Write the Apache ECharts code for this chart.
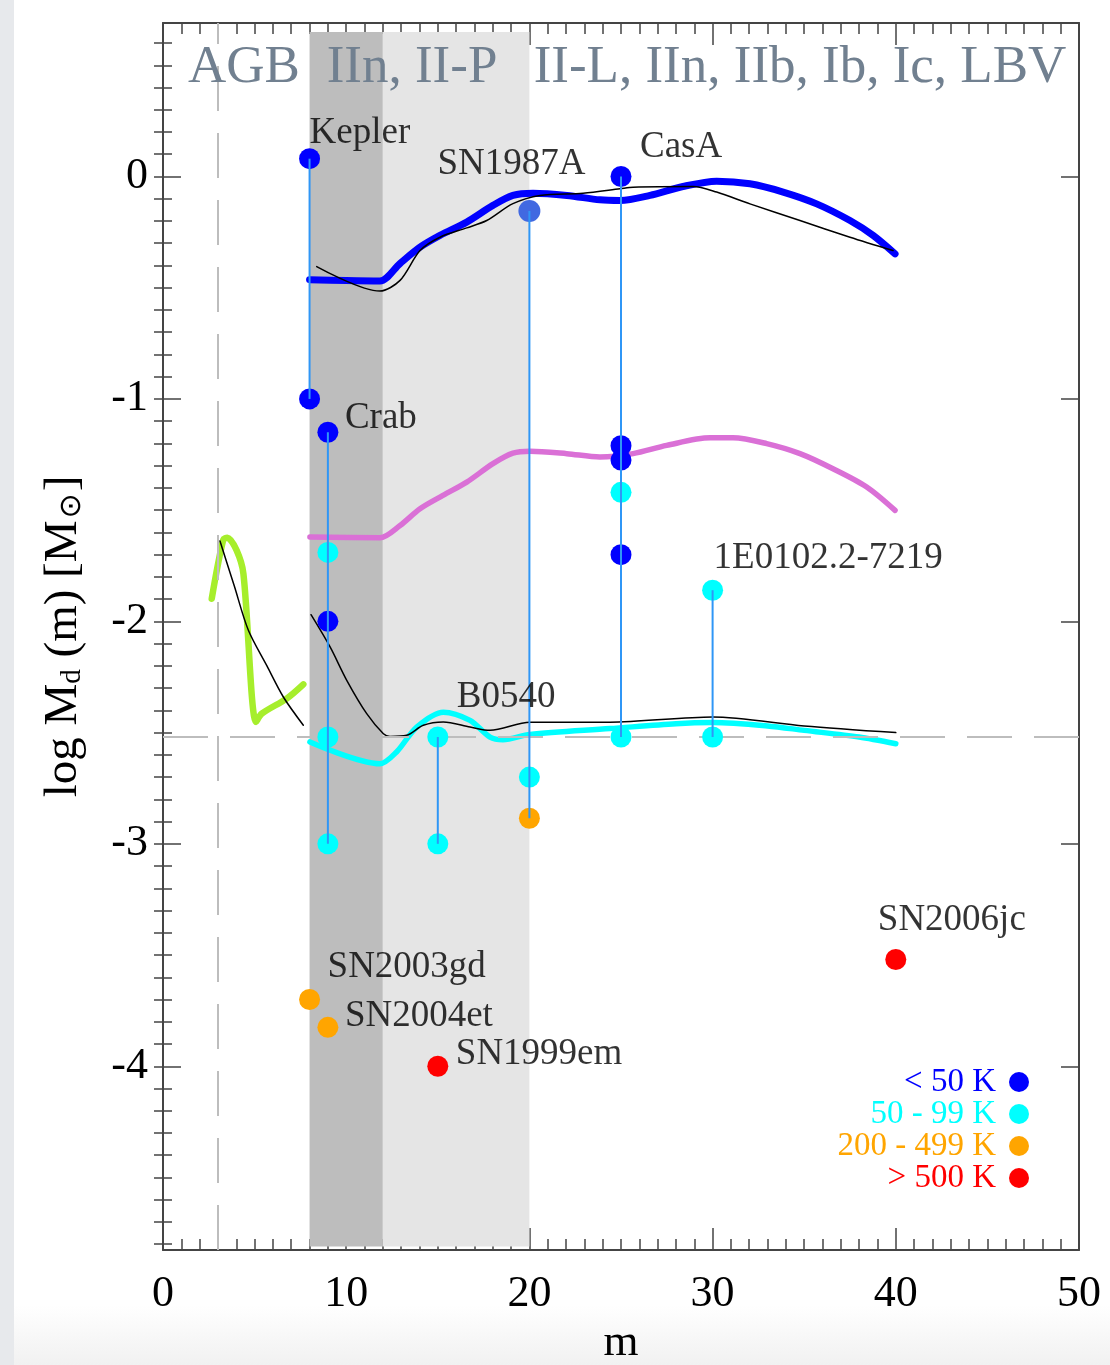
<!DOCTYPE html>
<html>
<head>
<meta charset="utf-8">
<script src="https://cdn.jsdelivr.net/npm/echarts@6/dist/echarts.min.js"></script>
<style>
html,body{margin:0;padding:0;width:1110px;height:1365px;overflow:hidden;background:#fff;}
#bg{position:absolute;left:0;top:0;width:1110px;height:1365px;background:linear-gradient(to bottom,#ffffff 0px,#ffffff 1305px,#f1f1f1 1365px);}
#strip{position:absolute;left:0;top:0;width:14px;height:1365px;background:#e7e9ec;}
#chart{position:absolute;left:0;top:0;width:1110px;height:1365px;}
</style>
</head>
<body>
<div id="bg"></div><div id="strip"></div>
<div id="chart"></div>
<script>
// ---------------- data ----------------
const blueCurve = [[8.0,-0.464],[10,-0.468],[11.84,-0.47],[12.94,-0.391],[14.03,-0.318],[15.12,-0.265],[16.58,-0.205],[18.01,-0.13],[19.1,-0.085],[20.2,-0.075],[22.05,-0.085],[23.85,-0.105],[24.95,-0.108],[26.58,-0.085],[28.38,-0.045],[30.22,-0.021],[32.04,-0.033],[33.85,-0.07],[35.68,-0.123],[37.5,-0.198],[38.76,-0.265],[39.96,-0.348]];
const blackCurveUpper = [[8.39,-0.405],[11.84,-0.515],[12.94,-0.467],[14.03,-0.333],[15.12,-0.273],[16.58,-0.231],[17.67,-0.198],[19.1,-0.122],[20.58,-0.085],[22.93,-0.075],[24.95,-0.055],[25.66,-0.048],[28.93,-0.045],[30.22,-0.07],[32.04,-0.123],[34.77,-0.198],[37.5,-0.273],[39.85,-0.333]];
const magentaCurve = [[8.02,-1.621],[11.84,-1.624],[12.94,-1.569],[14.03,-1.494],[15.28,-1.434],[16.58,-1.374],[18.01,-1.291],[19.1,-1.244],[20.03,-1.235],[22.04,-1.246],[23.85,-1.261],[25.66,-1.246],[27.49,-1.209],[29.86,-1.175],[31.11,-1.175],[32.95,-1.201],[34.77,-1.246],[36.57,-1.314],[38.41,-1.396],[39.96,-1.501]];
const cyanCurve = [[8.02,-2.542],[11.84,-2.64],[12.75,-2.587],[13.85,-2.475],[15.3,-2.408],[16.76,-2.445],[17.85,-2.52],[18.56,-2.532],[20.03,-2.508],[24.4,-2.482],[28,-2.46],[30,-2.455],[33,-2.47],[35,-2.49],[38,-2.52],[40,-2.55]];
const blackCurveLower = [[8.08,-1.97],[9.12,-2.115],[10.03,-2.265],[11.12,-2.415],[12.03,-2.505],[12.39,-2.517],[13.3,-2.512],[14.21,-2.467],[15.3,-2.452],[16.76,-2.475],[17.85,-2.49],[20.03,-2.453],[24.4,-2.453],[30,-2.43],[35,-2.47],[40,-2.5]];
const greenCurve = [[2.66,-1.898],[3.29,-1.633],[3.51,-1.624],[4.02,-1.681],[4.39,-1.786],[5.08,-2.452],[5.39,-2.415],[6.75,-2.347],[7.66,-2.283]];
const blackCurveAGB = [[3.11,-1.639],[3.88,-1.838],[4.66,-2.04],[5.66,-2.198],[6.57,-2.34],[7.66,-2.467]];

const dustCold = [[8,0.08],[8,-1.0],[9,-1.15],[9,-2.0],[25,0.0],[25,-1.21],[25,-1.275],[25,-1.70]];
const dustSN1987A = [[20,-0.155]];
const dustWarm = [[9,-1.69],[9,-2.52],[9,-3.0],[15,-2.52],[15,-3.0],[20,-2.70],[25,-1.42],[25,-2.52],[30,-1.86],[30,-2.52]];
const dustHot = [[20,-2.885],[8,-3.70],[9,-3.825]];
const dustVeryHot = [[15,-4.0],[40,-3.52]];

const stems = [[8,0.08,-1.0],[9,-1.15,-3.0],[15,-2.52,-3.0],[20,-0.155,-2.885],[25,0.0,-2.52],[30,-1.86,-2.52]];

const objectNames = ['Kepler','Crab','SN1987A','CasA','B0540','1E0102.2-7219','SN2003gd','SN2004et','SN1999em','SN2006jc'];
const objectAnchors = [[8,0.08],[9,-1.15],[20,-0.155],[25,0.0],[15,-2.52],[30,-1.86],[8,-3.70],[9,-3.825],[15,-4.0],[40,-3.52]];

const xTickValues = [0,10,20,30,40,50];
const yTickValues = [-4,-3,-2,-1,0];
const eraLabels = ['AGB','IIn, II-P','II-L, IIn, IIb, Ib, Ic, LBV'];
const eraBands = [[8,12],[12,20]];
const eraBandTop = 0.65;
const agbLimit = 3;
const dustLevel = -2.52;
const legendLabels = ['< 50 K','50 - 99 K','200 - 499 K','> 500 K'];

// ---------------- layout / style ----------------
const FONT = "'Liberation Serif','Times New Roman',Times,serif";
const X_MIN = 0, X_MAX = 50, Y_MIN = -4.826, Y_MAX = 0.69;
const bandColors = ['#bdbdbd','#e5e5e5'];
const legendColors = ['#0000ff','#00ffff','#ffa500','#ff0000'];
const labelOffsets = {
  'Kepler':[0,-25],'Crab':[17,-14],'SN1987A':[-92,-47],'CasA':[19,-29],'B0540':[19,-40],
  '1E0102.2-7219':[1,-32],'SN2003gd':[18,-32],'SN2004et':[17,-11],'SN1999em':[18,-12],'SN2006jc':[-18,-39]
};
const eraCenters = [244,412,800];
const minorY = [];
for (let k = -48; k <= 6; k++) minorY.push(k/10);

const axisColor = '#444';
const frameLine = {show:true,onZero:false,lineStyle:{color:axisColor,width:2}};

function xAx(pos, labels){
  return {
    type:'value', min:X_MIN, max:X_MAX, interval:10, position:pos,
    axisLine:frameLine,
    axisTick:{show:true,inside:true,length:22,lineStyle:{color:axisColor,width:1.5}},
    minorTick:{show:true,splitNumber:10,length:11,lineStyle:{color:axisColor,width:1.5}},
    splitLine:{show:false}, minorSplitLine:{show:false},
    axisLabel:{show:labels,fontSize:44,fontFamily:FONT,color:'#000',margin:22},
    name: labels ? 'm' : '', nameLocation:'middle', nameGap:70,
    nameTextStyle:{fontSize:45,fontFamily:FONT,color:'#000'}
  };
}
function yAx(pos, major, labels){
  const a = {
    type:'value', min:Y_MIN, max:Y_MAX, position:pos,
    axisLine: major ? frameLine : {show:false},
    axisTick:{show:true,inside:true,length: major?18:9, customValues: major?yTickValues:minorY, lineStyle:{color:axisColor,width:1.5}},
    splitLine:{show:false},
    axisLabel:{show:labels, customValues:yTickValues, fontSize:44,fontFamily:FONT,color:'#000',margin:15,
      formatter:v=>String(Math.round(v))}
  };
  if (labels){
    a.name='{a|log M}{s|d}{a| (m) [M}{o|⊙}{a|]}';
    a.nameLocation='middle'; a.nameRotate=90; a.nameGap=76;
    a.nameTextStyle={fontSize:47,fontFamily:FONT,color:'#000',
      rich:{a:{fontSize:47,fontFamily:FONT,color:'#000'},
            s:{fontSize:29,fontFamily:FONT,color:'#000',verticalAlign:'bottom',padding:[15,0,0,0]},
            o:{fontSize:30,fontFamily:"'DejaVu Sans',sans-serif",color:'#000',verticalAlign:'bottom',padding:[11,2,0,2]}}};
  }
  return a;
}

function curve(data, color, width, z){
  return {type:'line', data:data, smooth:0.3, symbol:'none', showSymbol:false, z:z,
    lineStyle:{color:color,width:width,cap:'round',join:'round'}, silent:true, animation:false};
}
function dots(data, color, size, z){
  return {type:'scatter', data:data, symbolSize:size, z:z, itemStyle:{color:color,opacity:1}, animation:false, silent:true};
}

const series = [];
series.push({type:'line', data:[], z:1, animation:false,
  markArea:{silent:true, data: eraBands.map((b,i)=>[
    {xAxis:b[0], yAxis:-4.81, itemStyle:{color:bandColors[i],opacity:1}},
    {xAxis:b[1], yAxis:eraBandTop}])}
});
series.push(curve(greenCurve,'#a6ee2c',6.5,3));
series.push(curve(blueCurve,'#0000ff',7,3));
series.push(curve(magentaCurve,'#da70d6',5.5,3));
series.push(curve(cyanCurve,'#00ffff',5.5,3));
series.push(curve(blackCurveAGB,'#000',1.5,4));
series.push(curve(blackCurveUpper,'#000',1.5,4));
series.push(curve(blackCurveLower,'#000',1.5,4));
series.push(dots(dustCold,'#0000ff',21,5));
series.push(dots(dustSN1987A,'#4169e1',22,5));
series.push(dots(dustWarm,'#00ffff',21,5));
series.push(dots(dustHot,'#ffa500',21,5));
series.push(dots(dustVeryHot,'#ff0000',21,5));
series.push({type:'line', data:[], z:6, animation:false,
  markLine:{silent:true, symbol:'none', label:{show:false},
    lineStyle:{color:'#bdbdbd',width:2,type:[45,22]},
    data:[{xAxis:agbLimit},{yAxis:dustLevel}]}});
stems.forEach(s=>{
  series.push({type:'line', data:[[s[0],s[1]],[s[0],s[2]]], symbol:'none', showSymbol:false, z:7,
    lineStyle:{color:'#2f96f6',width:2}, animation:false, silent:true});
});
series.push({type:'scatter', z:8, symbolSize:0.1, itemStyle:{color:'rgba(0,0,0,0)'}, animation:false, silent:true,
  data: objectNames.map((n,i)=>({value:objectAnchors[i], name:n,
    label:{show:true, position:'inside', align:'left', verticalAlign:'middle', offset:labelOffsets[n],
      formatter:n, fontSize:37, fontFamily:FONT, color:'#000'}}))});

const graphics = [];
eraLabels.forEach((t,i)=>{
  graphics.push({type:'text', x:eraCenters[i], y:68, z:10,
    style:{text:t, fontSize:53, fontFamily:FONT, fill:'#718090', align:'center', verticalAlign:'middle'}});
});
legendLabels.forEach((t,i)=>{
  const y = 1082 + 32*i;
  graphics.push({type:'text', x:996, y:y, z:10,
    style:{text:t, fontSize:33, fontFamily:FONT, fill:legendColors[i], align:'right', verticalAlign:'middle'}});
  graphics.push({type:'circle', shape:{cx:1019, cy:y, r:10}, z:10, style:{fill:legendColors[i]}});
});

const chart = echarts.init(document.getElementById('chart'), null, {renderer:'canvas'});
chart.setOption({
  animation:false,
  backgroundColor:'transparent',
  grid:{left:163, right:31, top:23, bottom:115, containLabel:false, outerBoundsMode:'none'},
  xAxis:[xAx('bottom',true), xAx('top',false)],
  yAxis:[yAx('left',true,true), yAx('left',false,false), yAx('right',true,false), yAx('right',false,false)],
  series: series,
  graphic: graphics
});
</script>
</body>
</html>
